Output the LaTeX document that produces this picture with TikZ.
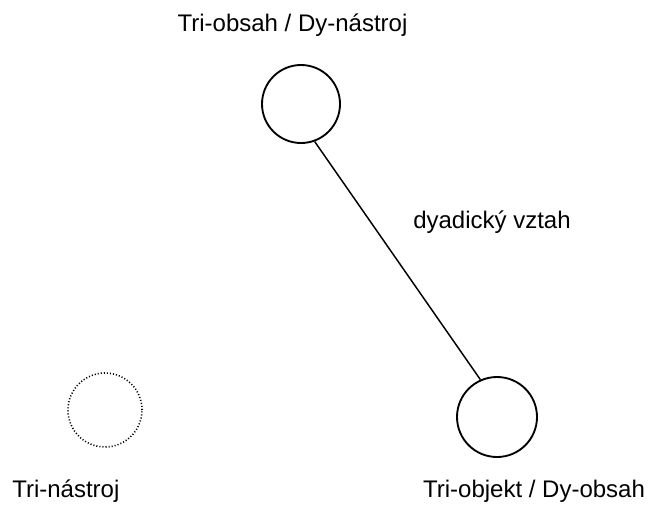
\documentclass[tikz,border=0pt]{standalone}
\usepackage{fontspec}
\setmainfont{Liberation Sans}
\begin{document}
\begin{tikzpicture}[x=0.75pt,y=-0.75pt,
  role/.style={circle,draw,line width=1.4pt,inner sep=0pt},
  ghost/.style={circle,draw,line width=1.2pt,inner sep=0pt,dash pattern=on 0.8pt off 1.5pt},
  lbl/.style={font=\fontsize{18}{20}\selectfont,inner sep=0pt},
  link/.style={line width=1.1pt}]
  \useasboundingbox (0,0) rectangle (648,504);
  % sign roles
  \node[role,minimum size=58.5pt] (obsah) at (301,104) {};
  \node[role,minimum size=60pt] (objekt) at (497,417) {};
  \node[ghost,minimum size=55.5pt] (nastroj) at (105,410) {};
  % labels
  \node[lbl,anchor=base] (tobsah) at (292.5,31) {Tri-obsah / Dy-nástroj};
  \node[lbl,anchor=base] (tobjekt) at (534,497) {Tri-objekt / Dy-obsah};
  \node[lbl,anchor=base west] (tnastroj) at (12,497) {Tri-nástroj};
  \node[lbl,anchor=base west] (tvztah) at (413,228) {dyadický vztah};
  % dyadic relation
  \draw[link] (obsah.-70) -- (objekt.114);
\end{tikzpicture}
\end{document}
